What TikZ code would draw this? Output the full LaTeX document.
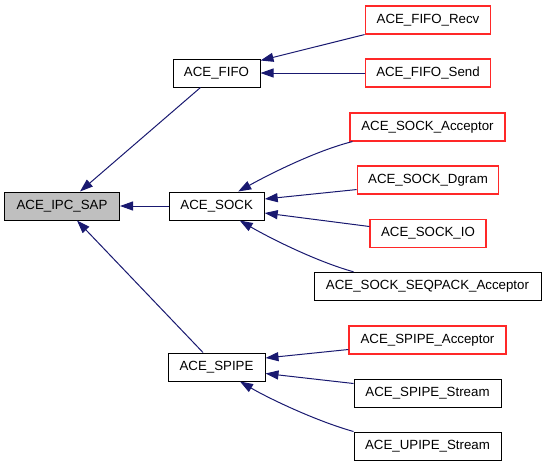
\documentclass[tikz,border=0pt]{standalone}
\usepackage{fontspec}
\setmainfont{Liberation Sans}
\usetikzlibrary{arrows.meta}
\definecolor{navyedge}{RGB}{25,25,112}
\definecolor{grayfill}{RGB}{191,191,191}
\definecolor{redline}{RGB}{255,40,40}
\begin{document}
\begin{tikzpicture}[x=1pt,y=-1pt,
  box/.style={draw=black, line width=1pt, minimum height=28pt, inner sep=0pt,
    font=\fontsize{13.3}{15}\selectfont, anchor=center},
  redbox/.style={box, draw=redline, line width=1.1pt},
  edge/.style={draw=navyedge, line width=1pt, -{Triangle[length=13pt,width=9pt]}}]
\useasboundingbox (0,0) rectangle (547,467);
% nodes
\node[box, fill=grayfill, minimum width=115pt] (ipc) at (62,206) {ACE\_IPC\_SAP};
\node[box, minimum width=87pt] (fifo) at (216.5,73) {ACE\_FIFO};
\node[box, minimum width=95pt] (sock) at (216.7,206) {ACE\_SOCK};
\node[box, minimum width=97pt] (spipe) at (216.5,367) {ACE\_SPIPE};
\node[redbox, minimum width=125.7pt] (recv) at (428,20) {ACE\_FIFO\_Recv};
\node[redbox, minimum width=124.3pt] (send) at (428,73) {ACE\_FIFO\_Send};
\node[redbox, minimum width=155pt] (sacc) at (427.5,127) {ACE\_SOCK\_Acceptor};
\node[redbox, minimum width=141.7pt] (dgram) at (428,180) {ACE\_SOCK\_Dgram};
\node[redbox, minimum width=116pt] (io) at (428,233.5) {ACE\_SOCK\_IO};
\node[box, minimum width=227pt] (seq) at (427.5,286.3) {ACE\_SOCK\_SEQPACK\_Acceptor};
\node[redbox, minimum width=157pt] (spacc) at (427.5,340) {ACE\_SPIPE\_Acceptor};
\node[box, minimum width=147pt] (sstream) at (427.5,393) {ACE\_SPIPE\_Stream};
\node[box, minimum width=147pt] (upipe) at (427.5,446) {ACE\_UPIPE\_Stream};
% edges
\draw[edge] (recv.south west) -- ([yshift=-2pt]fifo.north east);
\draw[edge] (send.west) -- (fifo.east);
\draw[edge] ([xshift=3pt]sacc.south west) .. controls (315,151) and (268,175) .. ([xshift=21.5pt]sock.north);
\draw[edge] ([yshift=5pt]dgram.south west) -- ([yshift=7pt]sock.east);
\draw[edge] ([yshift=7pt]io.west) -- ([yshift=-7pt]sock.east);
\draw[edge] ([xshift=40pt]seq.north west) .. controls (315,261) and (268,237) .. ([xshift=23pt]sock.south);
\draw[edge] ([xshift=-16pt]fifo.south) -- ([xshift=18pt]ipc.north);
\draw[edge] (sock.west) -- (ipc.east);
\draw[edge] ([xshift=-13.5pt]spipe.north) -- ([xshift=15pt]ipc.south);
\draw[edge] ([yshift=-9.5pt]spacc.west) -- ([yshift=9pt]spipe.east);
\draw[edge] ([yshift=9.5pt]sstream.west) -- ([yshift=-6.5pt]spipe.east);
\draw[edge] (upipe.north west) .. controls (316,421) and (268,398) .. ([xshift=23.5pt]spipe.south);
\end{tikzpicture}
\end{document}
